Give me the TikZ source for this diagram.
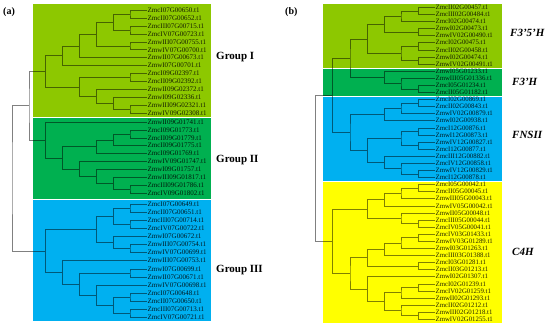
\documentclass[tikz,border=0pt]{standalone}
\usepackage{fontspec}
\setmainfont{Liberation Serif}
\usetikzlibrary{calc}
\definecolor{lgC}{RGB}{141,200,0}
\definecolor{dgC}{RGB}{0,176,80}
\definecolor{blC}{RGB}{0,176,240}
\definecolor{ylC}{RGB}{255,255,0}
\tikzset{
  tl/.style={draw=black!50, line width=0.5pt},
  labL/.style={font=\fontsize{7}{7}\selectfont, inner sep=0.4pt, anchor=west, text=black!85},
  labR/.style={font=\fontsize{6.8}{6.8}\selectfont, inner sep=0.4pt, anchor=west, text=black!85},
  grp/.style={font=\fontsize{11}{11}\selectfont\bfseries, inner sep=0pt, anchor=west},
  gen/.style={font=\fontsize{11}{11}\selectfont\bfseries\itshape, inner sep=0pt, anchor=west},
  pan/.style={font=\fontsize{10}{10}\selectfont\bfseries, inner sep=0pt, anchor=west},
  band/.style={draw=none}
}
\newcommand\jn[4]{%
  \path let \p1=(#3), \p2=(#4) in coordinate (#1) at ({#2pt},{0.5*(\y1+\y2)});
  \draw[tl] (#3) -| (#1) |- (#4);}
\begin{document}
\begin{tikzpicture}[x=1pt,y=-1pt]
\useasboundingbox (0,0) rectangle (550,326);
% ---------------- left leaves ----------------
\foreach \n [count=\i from 0] in {ZmcI07G00650.t1,ZmcII07G00652.t1,ZmcIII07G00715.t1,ZmcIV07G00723.t1,ZmwIII07G00755.t1,ZmwIV07G00700.t1,ZmwII07G00673.t1,ZmwI07G00701.t1,ZmcI09G02397.t1,ZmcII09G02392.t1,ZmwII09G02372.t1,ZmwI09G02336.t1,ZmwIII09G02321.t1,ZmwIV09G02308.t1}
  {\coordinate (a\i) at (147,{10+7.95*\i}); \node[labL] (ta\i) at (a\i) {\n};}
\foreach \n [count=\i from 14] in {ZmwII09G01741.t1,ZmcI09G01773.t1,ZmcII09G01779.t1,ZmcII09G01775.t1,ZmcI09G01769.t1,ZmwIV09G01747.t1,ZmwI09G01757.t1,ZmwIII09G01817.t1,ZmcIII09G01786.t1,ZmcIV09G01802.t1}
  {\coordinate (a\i) at (147,{122+7.9*(\i-14)}); \node[labL] (ta\i) at (a\i) {\n};}
\foreach \n [count=\i from 24] in {ZmcI07G00649.t1,ZmcII07G00651.t1,ZmcIII07G00714.t1,ZmcIV07G00722.t1,ZmwI07G00672.t1,ZmwIII07G00754.t1,ZmwIV07G00699.t1,ZmwIII07G00753.t1,ZmwI07G00699.t1,ZmwII07G00671.t1,ZmwIV07G00698.t1,ZmcI07G00648.t1,ZmcII07G00650.t1,ZmcIII07G00713.t1,ZmcIV07G00721.t1}
  {\coordinate (a\i) at (147,{204+8.1*(\i-24)}); \node[labL] (ta\i) at (a\i) {\n};}
% Group I
\jn{n01}{130}{a0}{a1}
\jn{n23}{130}{a2}{a3}
\jn{n03}{113.3}{n01}{n23}
\jn{n45}{130}{a4}{a5}
\jn{n05}{96.7}{n03}{n45}
\jn{n06}{79.3}{n05}{a6}
\jn{n07}{62.3}{n06}{a7}
\jn{n89}{130}{a8}{a9}
\jn{n1213}{130}{a12}{a13}
\jn{n1113}{113.3}{a11}{n1213}
\jn{n1013}{96.7}{a10}{n1113}
\jn{n813}{79.3}{n89}{n1013}
\jn{gI}{45.5}{n07}{n813}
% Group II
\jn{n1516}{130}{a15}{a16}
\jn{n1517}{113.3}{n1516}{a17}
\jn{n1518}{96.7}{n1517}{a18}
\jn{n2223}{130}{a22}{a23}
\jn{n2123}{113.3}{a21}{n2223}
\jn{n2023}{96.7}{a20}{n2123}
\jn{n1923}{79.3}{a19}{n2023}
\jn{n1523}{62.3}{n1518}{n1923}
\jn{gII}{45.5}{a14}{n1523}
% Group III
\jn{n2425}{130}{a24}{a25}
\jn{n2627}{130}{a26}{a27}
\jn{n2427}{113.3}{n2425}{n2627}
\jn{n2930}{130}{a29}{a30}
\jn{n2830}{113.3}{a28}{n2930}
\jn{n2430}{96.7}{n2427}{n2830}
\jn{n3233}{130}{a32}{a33}
\jn{n3536}{130}{a35}{a36}
\jn{n3738}{130}{a37}{a38}
\jn{n3538}{113.3}{n3536}{n3738}
\jn{n3438}{96.7}{a34}{n3538}
\jn{n3238}{79.3}{n3233}{n3438}
\jn{n3138}{62.3}{a31}{n3238}
\jn{gIII}{45.5}{n2430}{n3138}
\jn{gI2}{29}{gI}{gII}
\jn{rootA}{12}{gI2}{gIII}
% ---------------- right leaves ----------------
\foreach \n [count=\i from 0] in {ZmcII02G00457.t1,ZmcIII02G00484.t1,ZmcI02G00474.t1,ZmwI02G00473.t1,ZmwIV02G00490.t1,ZmcI02G00475.t1,ZmcII02G00458.t1,ZmwI02G00474.t1,ZmwIV02G00491.t1,ZmwI05G01233.t1,ZmwIII05G01336.t1,ZmcI05G01234.t1,ZmcII05G01182.t1,ZmcI02G00869.t1,ZmcII02G00843.t1,ZmwIV02G00879.t1,ZmwI02G00938.t1,ZmcI12G00876.t1,ZmwI12G00873.t1,ZmwIV12G00827.t1,ZmcI12G00877.t1,ZmcIII12G00882.t1,ZmcIV12G00858.t1,ZmwIV12G00829.t1,ZmcI12G00878.t1,ZmcI05G00042.t1,ZmcII05G00045.t1,ZmwIII05G00043.t1,ZmwIV05G00042.t1,ZmwII05G00048.t1,ZmcIII05G00044.t1,ZmcIV05G00041.t1,ZmcIV03G01433.t1,ZmwIV03G01289.t1,ZmwI03G01263.t1,ZmcIII03G01388.t1,ZmcI03G01281.t1,ZmcII03G01213.t1,ZmwI02G01307.t1,ZmcI02G01239.t1,ZmcIV02G01259.t1,ZmwII02G01293.t1,ZmcII02G01212.t1,ZmwIII02G01218.t1,ZmwIV02G01255.t1}
  {\coordinate (b\i) at (435,{7.3+7.09*\i}); \node[labR] (tb\i) at (b\i) {\n};}
% F3'5'H
\jn{p01}{418.3}{b0}{b1}
\jn{p012}{401}{p01}{b2}
\jn{p34}{418.3}{b3}{b4}
\jn{pA}{384.3}{p012}{p34}
\jn{p56}{418.3}{b5}{b6}
\jn{p78}{418.3}{b7}{b8}
\jn{pB}{401}{p56}{p78}
\jn{pF35}{367.3}{pA}{pB}
% F3'H
\jn{p1112}{418.3}{b11}{b12}
\jn{p10}{401}{b10}{p1112}
\jn{pF3}{384.3}{b9}{p10}
\jn{pF}{350}{pF35}{pF3}
% FNSII
\jn{p1314}{418.3}{b13}{b14}
\jn{p15}{401}{p1314}{b15}
\jn{p16}{384.3}{p15}{b16}
\jn{p1718}{418.3}{b17}{b18}
\jn{p1920}{418.3}{b19}{b20}
\jn{p1720}{401}{p1718}{p1920}
\jn{p2324}{418.3}{b23}{b24}
\jn{p22}{401}{b22}{p2324}
\jn{p21}{384.3}{b21}{p22}
\jn{pFl}{367.3}{p1720}{p21}
\jn{pFN}{350}{p16}{pFl}
\jn{pTop}{332.7}{pF}{pFN}
% C4H
\jn{p2526}{418.3}{b25}{b26}
\jn{p27}{401}{p2526}{b27}
\jn{p28}{384.3}{p27}{b28}
\jn{p3031}{418.3}{b30}{b31}
\jn{p29}{401}{b29}{p3031}
\jn{pCu}{367.3}{p28}{p29}
\jn{p3233}{418.3}{b32}{b33}
\jn{p34c}{401}{p3233}{b34}
\jn{p35}{384.3}{p34c}{b35}
\jn{p3637}{418.3}{b36}{b37}
\jn{pCm1}{367.3}{p35}{p3637}
\jn{p3940}{418.3}{b39}{b40}
\jn{p41}{401}{p3940}{b41}
\jn{p4344}{418.3}{b43}{b44}
\jn{p42}{401}{b42}{p4344}
\jn{pC4}{384.3}{p41}{p42}
\jn{pCm2}{367.3}{b38}{pC4}
\jn{pCl}{350}{pCm1}{pCm2}
\jn{pC}{332.7}{pCu}{pCl}
\jn{rootB}{315.7}{pTop}{pC}
% ---------------- colour bands (multiply) ----------------
\begin{scope}[blend mode=multiply]
\fill[lgC] (33,4) rectangle (211,116.6);
\fill[dgC] (33,117.6) rectangle (211,199.2);
\fill[blC] (33,200.4) rectangle (211,321);
\fill[lgC] (323,4) rectangle (502,67.6);
\fill[dgC] (323,68.6) rectangle (502,96.2);
\fill[blC] (323,97.2) rectangle (502,181.2);
\fill[ylC] (323,182.2) rectangle (502,323);
\end{scope}
% ---------------- labels ----------------
\node[pan] (pa) at (3,12) {(a)};
\node[pan] (pb) at (285,12) {(b)};
\node[grp] (g1) at (216,57) {Group I};
\node[grp] (g2) at (216,160) {Group II};
\node[grp] (g3) at (216,270) {Group III};
\node[gen] (f35) at (510,33) {F3’5’H};
\node[gen] (f3) at (512,82) {F3’H};
\node[gen] (fns) at (512,135) {FNSII};
\node[gen] (c4h) at (512,252) {C4H};
\end{tikzpicture}
\end{document}
